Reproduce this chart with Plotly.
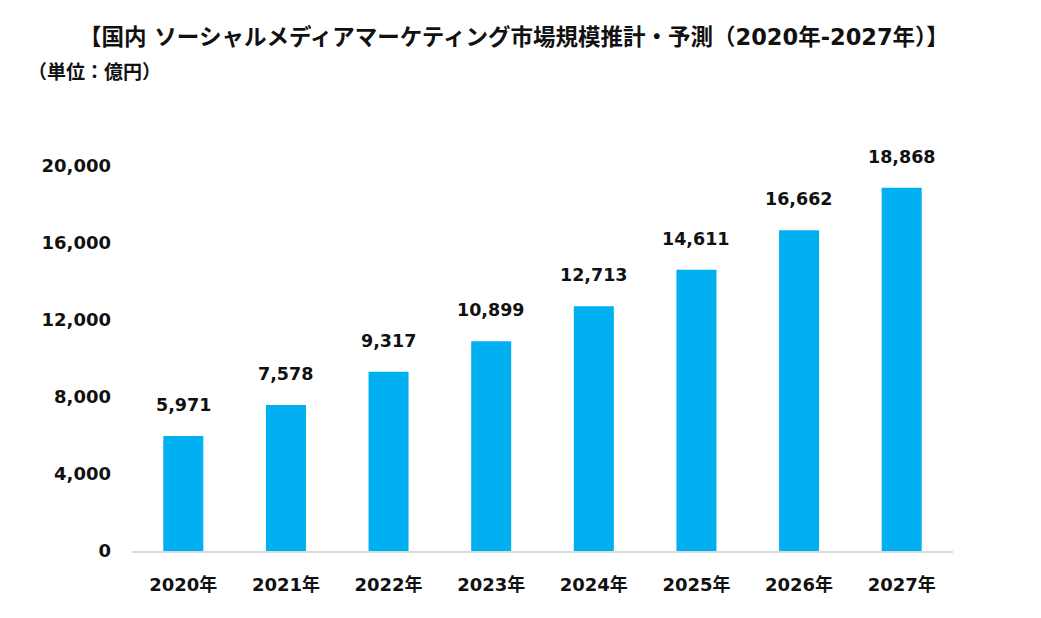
import plotly.graph_objects as go

years = ["2020年", "2021年", "2022年", "2023年", "2024年", "2025年", "2026年", "2027年"]
values = [5971, 7578, 9317, 10899, 12713, 14611, 16662, 18868]
y_ticks = [0, 4000, 8000, 12000, 16000, 20000]
y_tick_labels = ["0", "4,000", "8,000", "12,000", "16,000", "20,000"]

FONT = "DejaVu Sans, Noto Sans CJK JP, sans-serif"
BAR_COLOR = "#00B0F0"

# page body has an 8px margin, so the figure starts at (8, 8)
PL, PR, PT, PB = 132, 953, 166, 551

fig = go.Figure()
fig.add_trace(go.Bar(
    x=years, y=values, marker=dict(color=BAR_COLOR, line=dict(width=0)),
    hoverinfo="x+y",
))

for x, v in zip(years, values):
    fig.add_annotation(
        x=x, y=v, text=f"<b>{v:,}</b>", showarrow=False,
        yanchor="bottom", yshift=19,
        font=dict(family=FONT, size=17.5, color="#111111"),
    )

fig.add_annotation(
    xref="paper", yref="paper", x=(514 - PL) / (PR - PL), y=1 + (PT - 37) / (PB - PT),
    text="<b>【国内 ソーシャルメディアマーケティング市場規模推計・予測（2020年-2027年）】</b>",
    showarrow=False, xanchor="center", yanchor="middle",
    font=dict(family=FONT, size=22.5, color="#111111"),
)
fig.add_annotation(
    xref="paper", yref="paper", x=(26 - PL) / (PR - PL), y=1 + (PT - 72) / (PB - PT),
    text="<b>（単位：億円）</b>",
    showarrow=False, xanchor="left", yanchor="middle",
    font=dict(family=FONT, size=19, color="#111111"),
)

fig.update_layout(
    width=1033, height=610,
    margin=dict(l=PL - 8, r=1033 + 8 - PR, t=PT - 8, b=610 + 8 - PB),
    paper_bgcolor="white", plot_bgcolor="white",
    bargap=0.61,
    showlegend=False,
    font=dict(family=FONT, color="#111111"),
)
fig.update_xaxes(
    showline=True, linecolor="#D9D9D9", linewidth=2,
    showgrid=False, ticks="", ticklabelstandoff=16,
    tickfont=dict(family=FONT, size=18, color="#111111", weight="bold"),
)
fig.update_yaxes(
    range=[0, 20000], tickvals=y_ticks, ticktext=y_tick_labels,
    showgrid=False, showline=False, zeroline=False, ticks="",
    ticklabelstandoff=20,
    tickfont=dict(family=FONT, size=18, color="#111111", weight="bold"),
)

fig.write_html("out.html")
